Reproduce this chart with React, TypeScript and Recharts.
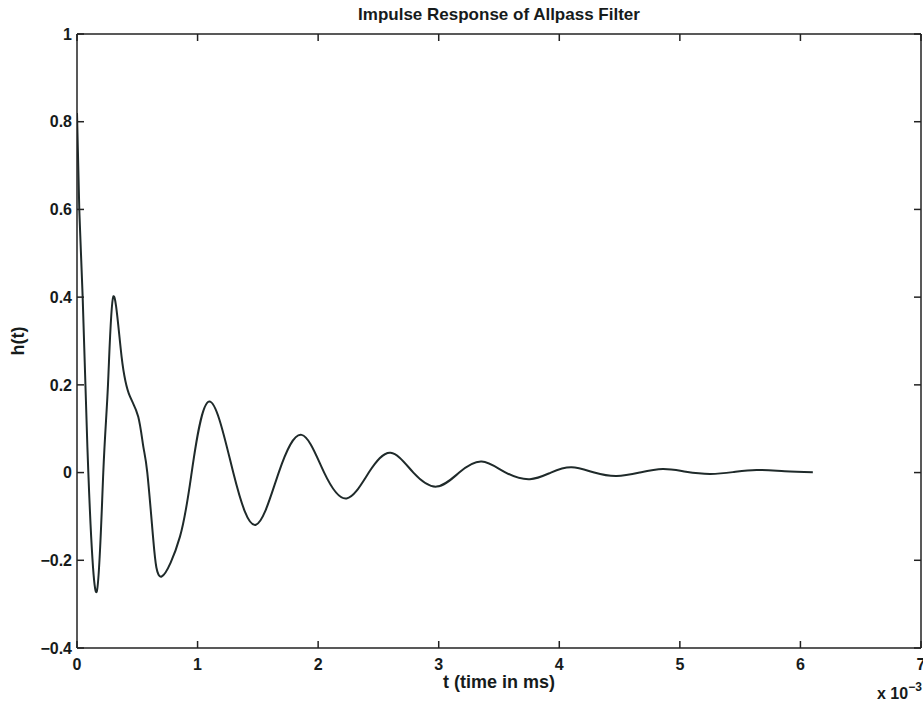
import { LineChart, Line, XAxis, YAxis, Label } from "recharts";

// time axis in ms (plotted as x 10^-3 s) and the impulse response
const timeMs = [
  0, 0.019, 0.047, 0.094, 0.163, 0.218, 0.257, 0.301, 0.37, 0.44, 0.508, 0.55,
  0.583, 0.633, 0.702, 0.854, 0.951, 1.097, 1.296, 1.484, 1.673, 1.863, 2.05,
  2.236, 2.42, 2.601, 2.79, 2.983, 3.17, 3.356, 3.556, 3.756, 3.93, 4.102, 4.29,
  4.475, 4.667, 4.859, 5.05, 5.249, 5.44, 5.636, 5.87, 6.103,
];
const response = [
  0.82, 0.6, 0.4, 0, -0.272, 0, 0.2, 0.401, 0.264, 0.173, 0.127, 0.059,
  0, -0.154, -0.237, -0.146, 0, 0.162, 0, -0.119, 0, 0.086, 0,
  -0.059, 0, 0.045, 0, -0.032, 0, 0.025, 0, -0.015, 0, 0.012, 0,
  -0.008, 0, 0.008, 0.002, -0.003, 0.001, 0.006, 0.003, 0.001,
];

const xTicks = [0, 1, 2, 3, 4, 5, 6, 7];
const yTicks = [-0.4, -0.2, 0, 0.2, 0.4, 0.6, 0.8, 1];

const data = timeMs.map((t, i) => ({ t, h: response[i] }));

const FONT = "'Liberation Sans', Arial, Helvetica, sans-serif";
const INK = "#161b1b";
const tickStyle = { fontSize: 16, fontWeight: 700, fill: INK, fontFamily: FONT };
const fmt = (v: number) => String(v).replace("-", "\u2212");

const ExponentLabel = (props: any) => {
  const vb = props.viewBox;
  return (
    <text
      x={vb.x + vb.width - 44}
      y={vb.y + vb.height + 11}
      fontSize={16}
      fontWeight={700}
      fontFamily={FONT}
      fill={INK}
    >
      x 10
      <tspan dy={-8} fontSize={12}>
        {"\u22123"}
      </tspan>
    </text>
  );
};

export default function App() {
  return (
    <div
      style={{
        position: "absolute",
        top: 0,
        left: 0,
        width: 923,
        height: 702,
        overflow: "hidden",
        background: "#fff",
      }}
    >
      <div
        style={{
          position: "absolute",
          left: 77,
          width: 844,
          top: 5,
          textAlign: "center",
          fontFamily: FONT,
          fontSize: 17,
          fontWeight: 700,
          color: INK,
        }}
      >
        Impulse Response of Allpass Filter
      </div>
      <div style={{ position: "absolute", top: 8, left: 8 }}>
        <LineChart
          width={960}
          height={694}
          data={data}
          margin={{ top: 25, right: 46, bottom: 14, left: 0 }}
        >
          <XAxis
            dataKey="t"
            type="number"
            domain={[0, 7]}
            ticks={xTicks}
            interval={0}
            allowDataOverflow
            height={40}
            tickSize={-7}
            tickMargin={18}
            tick={tickStyle}
            stroke="#222"
            strokeWidth={1.5}
          >
            <Label
              value="t (time in ms)"
              position="insideBottom"
              offset={0}
              style={{ fontSize: 18, fontWeight: 700, fill: INK, fontFamily: FONT }}
            />
            <Label content={ExponentLabel} />
          </XAxis>
          <XAxis
            xAxisId="top"
            dataKey="t"
            orientation="top"
            type="number"
            domain={[0, 7]}
            ticks={xTicks}
            interval={0}
            allowDataOverflow
            height={1}
            tickSize={-7}
            tickFormatter={() => ""}
            stroke="#222"
            strokeWidth={1.5}
          />
          <YAxis
            type="number"
            domain={[-0.4, 1]}
            ticks={yTicks}
            interval={0}
            allowDataOverflow
            width={69}
            tickSize={-7}
            tickMargin={12}
            tick={tickStyle}
            tickFormatter={fmt}
            stroke="#222"
            strokeWidth={1.5}
          >
            <Label
              value="h(t)"
              angle={-90}
              position="insideLeft"
              offset={10}
              style={{
                fontSize: 18,
                fontWeight: 700,
                fill: INK,
                fontFamily: FONT,
                textAnchor: "middle",
              }}
            />
          </YAxis>
          <YAxis
            yAxisId="right"
            dataKey="h"
            orientation="right"
            type="number"
            domain={[-0.4, 1]}
            ticks={yTicks}
            interval={0}
            allowDataOverflow
            width={1}
            tickSize={-7}
            tickFormatter={() => ""}
            stroke="#222"
            strokeWidth={1.5}
          />
          <Line
            type="natural"
            dataKey="h"
            stroke="#1f2a2a"
            strokeWidth={2}
            dot={false}
            isAnimationActive={false}
          />
        </LineChart>
      </div>
    </div>
  );
}
